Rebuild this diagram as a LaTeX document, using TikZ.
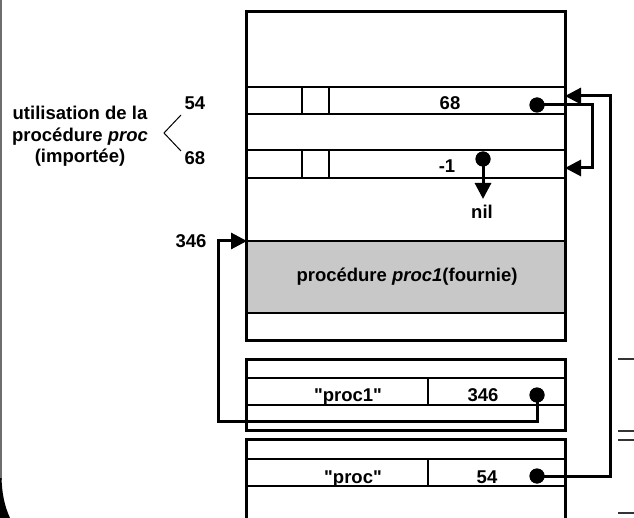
\documentclass[tikz,border=0pt]{standalone}
\usepackage{fontspec}
\setmainfont{Liberation Sans}[Ligatures=TeXOff]
\usetikzlibrary{arrows.meta}
\definecolor{procgray}{RGB}{200,200,200}
\definecolor{edgegray}{RGB}{110,110,110}
\begin{document}
\begin{tikzpicture}[x=1pt,y=-1pt,
  thickbox/.style={line width=3pt},
  thinline/.style={line width=1.3pt},
  lbl/.style={font=\fontsize{18.5}{21.5}\selectfont\bfseries, inner sep=0pt},
  memdot/.style={circle, fill=black, minimum size=15pt, inner sep=0pt},
  conn/.style={line width=3pt, line join=miter},
  connarrow/.style={conn, -{Triangle[length=16pt,width=16pt]}},
]
\useasboundingbox (0,0) rectangle (634,518);

% left frame remnant
\draw[edgegray, line width=1.5pt] (1,0) -- (1,480);
\fill (0,478) -- (0,518) -- (10,518) .. controls (4,505) and (2,492) .. (1.5,478) -- cycle;

% right edge marks
\foreach \yy in {359,431,440,513}
  \draw[line width=1.3pt, black!80] (618,\yy) -- (634,\yy);

% ---------------- main memory block ----------------
\fill[procgray] (246,241) rectangle (565,313);
\draw[thinline] (246,87) -- (565,87) (246,114) -- (565,114);
\draw[thinline] (302,87) -- (302,114) (329,87) -- (329,114);
\draw[thinline] (246,150) -- (565,150) (246,178) -- (565,178);
\draw[thinline] (302,150) -- (302,178) (329,150) -- (329,178);
\draw[line width=1.8pt] (246,241) -- (565,241) (246,313) -- (565,313);
\draw[thickbox] (246,12) rectangle (565,340);

\node[lbl, anchor=base] (v68) at (450,110) {68};
\node[lbl, anchor=base] (vm1) at (447,173) {-1};
\node[lbl, anchor=base] (nil) at (482,219) {nil};
\node[lbl, anchor=base] (proc1) at (407,282) {procédure \textit{proc1}(fournie)};

% ---------------- table entry proc1 ----------------
\draw[thinline] (246,378) -- (565,378) (246,405) -- (565,405);
\draw[thinline] (428,378) -- (428,405);
\draw[thickbox] (246,359) rectangle (565,430);
\node[lbl, anchor=base] (sproc1) at (348,401) {"proc1"};
\node[lbl, anchor=base] (v346) at (483,401) {346};

% ---------------- table entry proc ----------------
\draw[thinline] (246,459) -- (565,459) (246,486) -- (565,486);
\draw[thinline] (428,459) -- (428,486);
\draw[thickbox] (246,525) -- (246,439) -- (565,439) -- (565,525);
\node[lbl, anchor=base] (sproc) at (353,483) {"proc"};
\node[lbl, anchor=base] (v54) at (487,483) {54};

% ---------------- left labels ----------------
\node[lbl, align=center, anchor=north] (usage) at (80,106)
  {utilisation de la\\procédure \textit{proc}\\(importée)};
\node[lbl, anchor=base] (l54) at (195,110) {54};
\node[lbl, anchor=base] (l68) at (195,165) {68};
\node[lbl, anchor=base] (l346) at (191,248) {346};
\coordinate (bt) at (181,115);
\coordinate (bv) at (164,133);
\coordinate (bb) at (181,151);
\draw[line width=1pt] (bt) -- (bv) -- (bb);

% ---------------- pointers ----------------
\node[memdot] (d68) at (537,105) {};
\node[memdot] (dm1) at (483,159) {};
\node[memdot] (d346) at (537,395) {};
\node[memdot] (d54) at (537,476) {};

\coordinate (row2in) at (565,168);
\coordinate (row1in) at (565,96);
\coordinate (procin) at (247,241);
\coordinate (nilin) at (483,199);

\draw[connarrow] (d68.center) -- (592,105) -- (592,168) -- (row2in);
\draw[connarrow] (d54.center) -- (610,476) -- (610,96) -- (row1in);
\draw[connarrow] (d346.center) -- (537,421) -- (218,421) -- (218,241) -- (procin);
\draw[connarrow] (dm1.center) -- (nilin);

\node[memdot] at (d68) {};
\node[memdot] at (dm1) {};
\node[memdot] at (d346) {};
\node[memdot] at (d54) {};
\end{tikzpicture}
\end{document}
